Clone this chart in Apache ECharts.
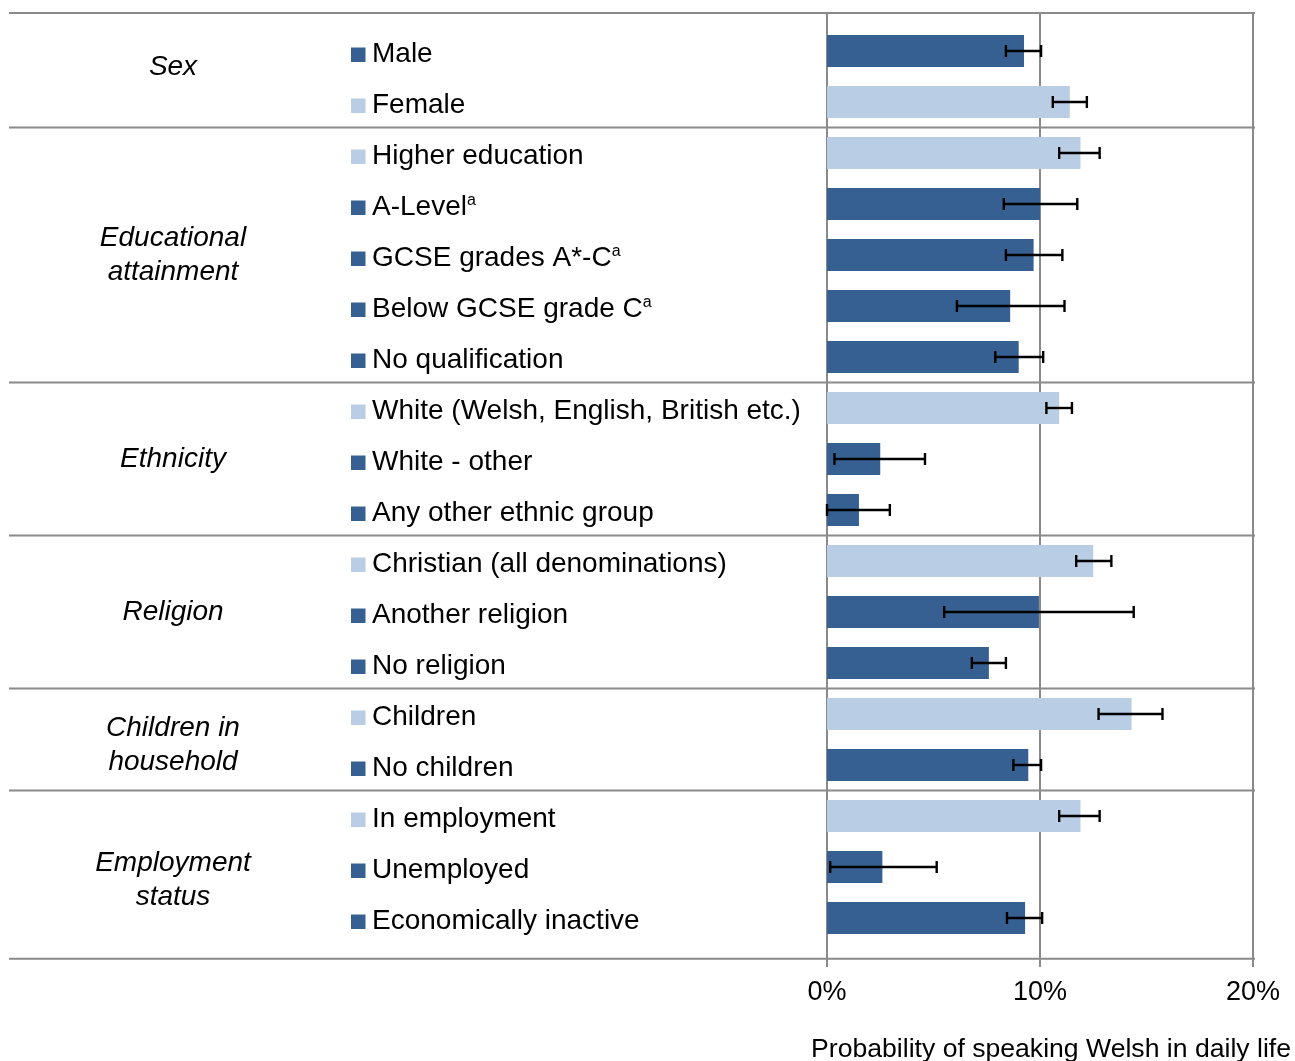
<!DOCTYPE html>
<html>
<head>
<meta charset="utf-8">
<script src="https://cdn.jsdelivr.net/npm/echarts@6/dist/echarts.min.js"></script>
<style>
html,body{margin:0;padding:0;background:#fff;}
#chart{width:1295px;height:1061px;}
</style>
</head>
<body>
<div id="chart"></div>
<script>
// ---- data ----
const categories = ['Male','Female','Higher education','A-Level','GCSE grades A*-C','Below GCSE grade C','No qualification',
  'White (Welsh, English, British etc.)','White - other','Any other ethnic group',
  'Christian (all denominations)','Another religion','No religion',
  'Children','No children','In employment','Unemployed','Economically inactive'];
const footnotes = ['','','','a','a','a','','','','','','','','','','','',''];
const isReference = [false,true,true,false,false,false,false,true,false,false,true,false,false,true,false,true,false,false];
const values = [9.25, 11.4, 11.9, 10.0, 9.7, 8.6, 9.0, 10.9, 2.5, 1.5, 12.5, 9.95, 7.6, 14.3, 9.45, 11.9, 2.6, 9.3];
const lower  = [8.4, 10.6, 10.9, 8.3, 8.4, 6.1, 7.9, 10.3, 0.35, 0.0, 11.7, 5.5, 6.8, 12.75, 8.75, 10.9, 0.15, 8.45];
const upper  = [10.05, 12.2, 12.8, 11.75, 11.05, 11.15, 10.15, 11.5, 4.6, 2.95, 13.35, 14.4, 8.4, 15.75, 10.05, 12.8, 5.15, 10.1];
const groupNames = ['Sex','Educational\nattainment','Ethnicity','Religion','Children in\nhousehold','Employment\nstatus'];
const groupStarts = [0, 2, 7, 10, 13, 15];
const xTicks = [0, 10, 20];
const axisTitle = 'Probability of speaking Welsh in daily life';

// ---- styles ----
const DARK = '#366092', LIGHT = '#B9CDE5', GRID = '#8a8a8a';
const FONT = '"Liberation Sans", Arial, sans-serif';
const TOP_EXT = -0.745, BOTTOM_LINE = 17.8, BOTTOM_TICK = 17.96;
const GROUP_LABEL_DY = [-9, 0, 0, 0, 6, 13]; // px nudges of group labels

const groupEnds = groupStarts.map((s, k) => (k < groupStarts.length - 1 ? groupStarts[k + 1] - 1 : categories.length - 1));

const chart = echarts.init(document.getElementById('chart'), null, {renderer: 'canvas'});

function rowY(api, r) {
  const y0 = api.coord([0, 0])[1];
  const band = api.size([0, 1])[1];
  return y0 + r * band;
}

const option = {
  animation: false,
  backgroundColor: '#fff',
  title: {
    text: axisTitle, right: 4, top: 1036, padding: 0,
    textStyle: {fontFamily: FONT, fontSize: 26.6, fontWeight: 'normal', color: '#000'}
  },
  grid: {left: 827, right: 42, top: 25.5, bottom: 117.5, containLabel: false},
  xAxis: {
    type: 'value', min: 0, max: 20, interval: 10,
    axisLine: {show: false}, axisTick: {show: false}, splitLine: {show: false},
    axisLabel: {formatter: '{value}%', fontFamily: FONT, fontSize: 27, color: '#000', margin: 36, showMinLabel: true, showMaxLabel: true}
  },
  yAxis: {
    type: 'category', inverse: true, data: categories,
    axisLine: {show: false}, axisTick: {show: false}, axisLabel: {show: false}, splitLine: {show: false}
  },
  series: [
    { // frame: vertical lines and group separators
      type: 'custom', z: 1, silent: true,
      data: [0],
      renderItem: function (params, api) {
        const children = [];
        const yTop = rowY(api, TOP_EXT);
        const yTick = rowY(api, BOTTOM_TICK);
        xTicks.forEach(t => {
          const x = api.coord([t, 0])[0];
          children.push({type: 'line', shape: {x1: x, y1: yTop, x2: x, y2: yTick}, style: {stroke: GRID, lineWidth: 2}});
        });
        const xR = api.coord([xTicks[xTicks.length - 1], 0])[0] + 2;
        const bounds = [TOP_EXT].concat(groupStarts.slice(1).map(s => s - 0.5), [BOTTOM_LINE]);
        bounds.forEach(b => {
          const y = rowY(api, b);
          children.push({type: 'line', shape: {x1: 9, y1: y, x2: xR, y2: y}, style: {stroke: GRID, lineWidth: 2}});
        });
        return {type: 'group', children: children};
      }
    },
    {
      type: 'bar', z: 3, barWidth: 32, silent: true,
      data: values.map((v, i) => ({value: v, itemStyle: {color: isReference[i] ? LIGHT : DARK}}))
    },
    { // error bars
      type: 'custom', z: 4, silent: true,
      data: values.map((v, i) => [lower[i], upper[i], i]),
      encode: {x: [0, 1], y: 2},
      renderItem: function (params, api) {
        const i = api.value(2);
        const p1 = api.coord([api.value(0), i]);
        const p2 = api.coord([api.value(1), i]);
        const h = 6;
        const st = {stroke: '#000', lineWidth: 2.4};
        return {type: 'group', children: [
          {type: 'line', shape: {x1: p1[0], y1: p1[1], x2: p2[0], y2: p2[1]}, style: st},
          {type: 'line', shape: {x1: p1[0], y1: p1[1] - h, x2: p1[0], y2: p1[1] + h}, style: st},
          {type: 'line', shape: {x1: p2[0], y1: p2[1] - h, x2: p2[0], y2: p2[1] + h}, style: st}
        ]};
      }
    },
    { // row labels with markers
      type: 'custom', z: 5, silent: true,
      data: categories.map((c, i) => [0, i]),
      encode: {x: 0, y: 1},
      renderItem: function (params, api) {
        const i = params.dataIndex;
        const y = api.coord([0, i])[1];
        const sup = footnotes[i] ? '{s|' + footnotes[i] + '}' : '';
        return {type: 'group', children: [
          {type: 'rect', shape: {x: 351, y: y - 3.5, width: 14.5, height: 14.5}, style: {fill: isReference[i] ? LIGHT : DARK}},
          {type: 'text', x: 372, y: y + 3.5, style: {
            text: '{t|' + categories[i] + '}' + sup,
            verticalAlign: 'middle', align: 'left',
            rich: {
              t: {fontFamily: FONT, fontSize: 28, fill: '#000', lineHeight: 30},
              s: {fontFamily: FONT, fontSize: 16, fill: '#000', lineHeight: 28, verticalAlign: 'top'}
            }
          }}
        ]};
      }
    },
    { // group labels
      type: 'custom', z: 5, silent: true,
      data: groupNames.map((g, k) => [0, groupStarts[k]]),
      encode: {x: 0, y: 1},
      renderItem: function (params, api) {
        const k = params.dataIndex;
        const yc = (api.coord([0, groupStarts[k]])[1] + api.coord([0, groupEnds[k]])[1]) / 2 + GROUP_LABEL_DY[k];
        return {type: 'text', x: 173, y: yc, style: {
          text: groupNames[k], align: 'center', verticalAlign: 'middle',
          fontFamily: FONT, fontSize: 28, fontStyle: 'italic', fill: '#000', lineHeight: 34
        }};
      }
    }
  ]
};
chart.setOption(option);
</script>
</body>
</html>
